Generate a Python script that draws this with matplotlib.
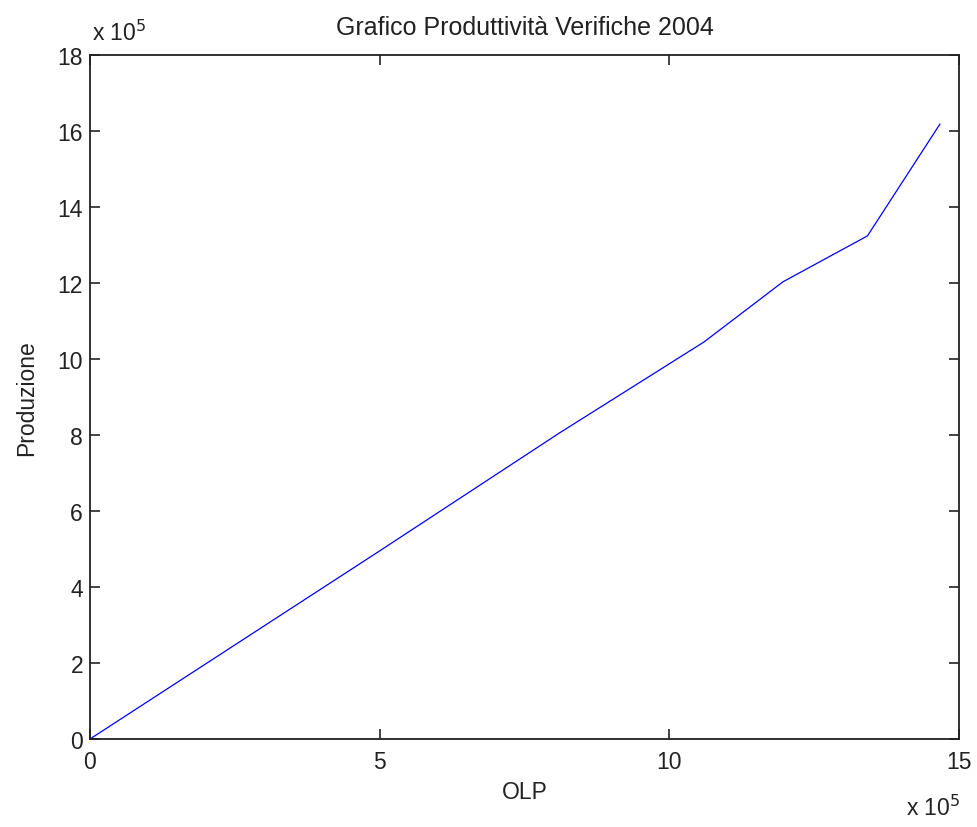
import matplotlib

matplotlib.use("Agg")

import matplotlib.pyplot as plt
from matplotlib.ticker import FuncFormatter, MultipleLocator

# OLP vs Produzione (raw values)
olp = [0, 500000, 810000, 1060000, 1196000, 1342000, 1467000]
produzione = [0, 495000, 805000, 1045000, 1203000, 1324000, 1618000]

plt.rcParams["font.family"] = ["Liberation Sans", "DejaVu Sans"]
FS = 16.5

fig = plt.figure(figsize=(9.77, 8.28), dpi=100)
ax = fig.add_axes([90 / 977, 88 / 828, 869 / 977, 684 / 828])

ax.plot(olp, produzione, color="#0000ff", linewidth=0.9)

ax.set_xlim(0, 1500000)
ax.set_ylim(0, 1800000)
ax.xaxis.set_major_locator(MultipleLocator(500000))
ax.yaxis.set_major_locator(MultipleLocator(200000))
scaled = FuncFormatter(lambda v, _pos: f"{v / 1e5:g}")
ax.xaxis.set_major_formatter(scaled)
ax.yaxis.set_major_formatter(scaled)

ax.tick_params(direction="in", length=7, width=1.2, top=True, right=True,
               labelsize=FS, pad=5, colors="#222222")
ax.tick_params(axis="x", pad=8)
for spine in ax.spines.values():
    spine.set_linewidth(1.3)
    spine.set_color("#222222")

ax.set_title("Grafico Produttività Verifiche 2004", fontsize=18, pad=15, color="#222222")
ax.set_xlabel("OLP", fontsize=FS, labelpad=5, color="#222222")
ax.set_ylabel("Produzione", fontsize=FS, labelpad=14, color="#222222")

fig.text(92 / 977, 1 - 33 / 828, r"x 10$^5$", fontsize=FS, ha="left", va="center", color="#222222")
fig.text(960 / 977, 1 - 808 / 828, r"x 10$^5$", fontsize=FS, ha="right", va="center", color="#222222")

fig.savefig("out.png")
plt.close(fig)
